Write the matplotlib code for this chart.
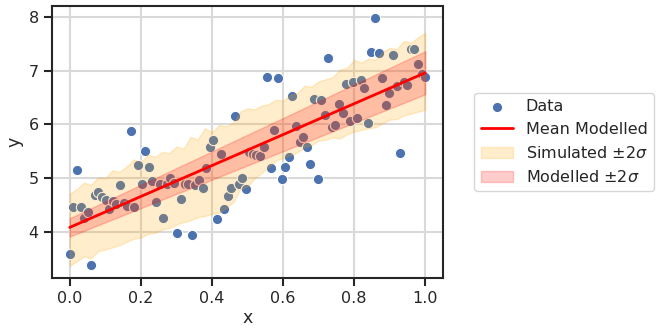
import numpy as np
import matplotlib
matplotlib.use("Agg")
from matplotlib import pyplot as plt
import seaborn as sns

# observed data (x evenly spaced on [0, 1])
x = np.linspace(0, 1, 100)
y = [3.60, 4.46, 5.15, 4.46, 4.27, 4.38, 3.39, 4.70, 4.75, 4.65,
     4.60, 4.44, 4.58, 4.52, 4.87, 4.54, 4.49, 5.87, 4.46, 5.24,
     4.89, 5.50, 5.21, 4.95, 4.57, 4.90, 4.26, 4.90, 5.01, 4.92,
     3.98, 4.61, 4.89, 4.90, 3.95, 4.87, 4.97, 4.83, 5.20, 5.59,
     5.71, 4.25, 5.45, 4.44, 4.67, 4.82, 6.16, 4.90, 5.00, 4.81,
     5.49, 5.45, 5.43, 5.41, 5.59, 6.88, 5.19, 5.89, 6.86, 4.98,
     5.21, 5.40, 6.52, 5.97, 5.68, 5.77, 5.58, 5.26, 6.48, 4.98,
     6.46, 6.18, 7.24, 5.95, 5.99, 6.38, 6.21, 6.76, 6.07, 6.78,
     6.12, 6.82, 6.68, 6.02, 7.35, 7.97, 7.33, 6.86, 6.36, 6.58,
     7.29, 6.71, 5.48, 6.78, 6.73, 7.41, 7.41, 7.13, 6.93, 6.88]

# modelled mean line and its +-2 sigma half width at x=0 and x=1
mean_intercept = 4.09
mean_slope = 2.87
model_halfwidth_0 = 0.17
model_halfwidth_1 = 0.40

# simulated +-2 sigma envelope, read every 0.02 in x
sim_x = np.linspace(0, 1, 51)
sim_upper = [4.72, 4.80, 4.92, 4.88, 5.02, 5.00, 5.15, 5.12, 5.22, 5.35,
             5.30, 5.44, 5.40, 5.49, 5.47, 5.59, 5.55, 5.77, 5.72, 5.93,
             5.86, 5.99, 5.97, 6.03, 6.24, 6.30, 6.28, 6.35, 6.38, 6.46,
             6.44, 6.55, 6.58, 6.72, 6.70, 6.80, 6.84, 6.88, 7.02, 7.05,
             7.20, 7.15, 7.22, 7.20, 7.35, 7.42, 7.40, 7.55, 7.52, 7.62,
             7.70]
sim_lower = [3.38, 3.46, 3.55, 3.52, 3.65, 3.68, 3.72, 3.76, 3.82, 3.88,
             3.90, 3.97, 3.99, 4.05, 4.08, 4.14, 4.19, 4.22, 4.28, 4.30,
             4.34, 4.36, 4.45, 4.56, 4.80, 4.85, 5.00, 5.10, 5.22, 5.33,
             5.38, 5.43, 5.48, 5.58, 5.62, 5.70, 5.72, 5.76, 5.74, 5.82,
             5.87, 5.90, 5.93, 5.95, 6.02, 6.09, 6.10, 6.17, 6.20, 6.24,
             6.27]

sns.set_style("ticks")
plt.rcParams['font.family'] = ['DejaVu Sans']
plt.rcParams['axes.edgecolor'] = '#262626'
plt.rcParams['text.color'] = '#262626'

fig, ax = plt.subplots(figsize=(6.59, 3.35), dpi=100)
fig.subplots_adjust(left=52 / 659, right=443 / 659, top=1 - 6 / 335, bottom=1 - 278 / 335)

mean = mean_intercept + mean_slope * x
half = model_halfwidth_0 + (model_halfwidth_1 - model_halfwidth_0) * x

h_data = ax.scatter(x, y, s=55, color='#4c72b0', edgecolor='white', linewidth=0.8, label='Data', zorder=2)
h_sim = ax.fill_between(sim_x, sim_lower, sim_upper, color='orange', alpha=0.2,
                        label=r'Simulated $\pm2\sigma$', zorder=3)
h_mod = ax.fill_between(x, mean - half, mean + half, color='red', alpha=0.2,
                        label=r'Modelled $\pm2\sigma$', zorder=4)
h_mean, = ax.plot(x, mean, color='red', lw=2, label='Mean Modelled', zorder=5)

ax.grid(True, color='#d9d9d9', lw=1.5)
ax.set_axisbelow(True)
for s in ax.spines.values():
    s.set_linewidth(1.5)
ax.tick_params(labelsize=11.5, width=1.5, length=6, colors='#262626')
ax.set_xticks([0.0, 0.2, 0.4, 0.6, 0.8, 1.0])
ax.set_yticks([4, 5, 6, 7, 8])
ax.set_xlabel('x', fontsize=12.5, labelpad=2)
ax.set_ylabel('y', fontsize=12.5, labelpad=4)

ax.legend(handles=[h_data, h_mean, h_sim, h_mod], loc='center left', bbox_to_anchor=(1.06, 0.5),
          fontsize=11.5, frameon=True)

fig.savefig('out.png', dpi=100)
